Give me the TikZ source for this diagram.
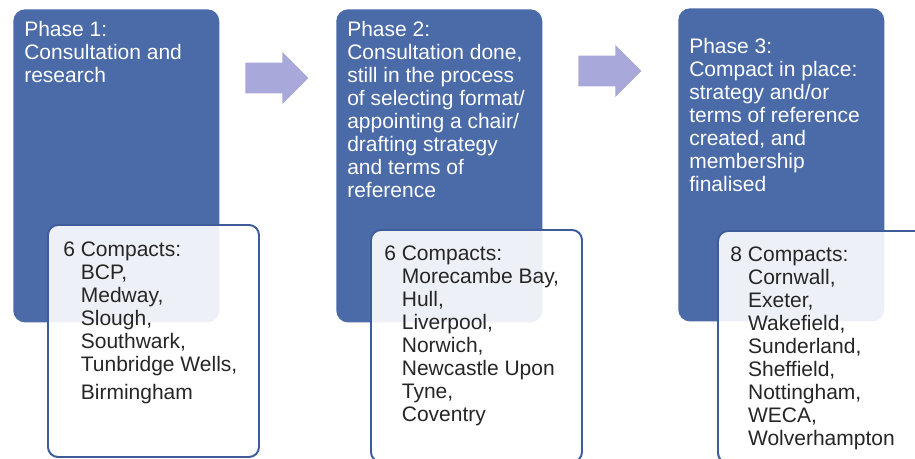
\documentclass[tikz,border=0pt]{standalone}
\usepackage{fontspec}
\setmainfont{Liberation Sans}
\usetikzlibrary{positioning, shapes.arrows}
\definecolor{phaseblue}{RGB}{74,106,168}
\definecolor{listedge}{RGB}{62,92,154}
\definecolor{listgrey}{RGB}{38,38,38}
\definecolor{arrowlilac}{RGB}{168,168,218}
\newcommand{\listindent}{\hspace*{0.44cm}}

\tikzset{
 phasebox/.style={fill=phaseblue, rounded corners=0.3cm, minimum width=5.15cm, minimum height=7.83cm, anchor=north west, inner sep=0pt},
 listbox/.style={draw=listedge, line width=1.4pt, fill=white, fill opacity=0.9, rounded corners=0.25cm, minimum width=5.275cm, minimum height=5.8cm, anchor=north west, inner sep=0pt},
 phasetext/.style={text=white, align=left, inner sep=0pt, font=\fontsize{14.94pt}{16.36pt}\selectfont},
 listtext/.style={text=listgrey, align=left, inner sep=0pt, font=\fontsize{14.94pt}{16.36pt}\selectfont},
 nextarrow/.style={single arrow, fill=arrowlilac, anchor=tail, inner xsep=0pt, inner ysep=0.38cm, minimum height=1.575cm, minimum width=1.29cm, single arrow head extend=0.26cm, single arrow tip angle=90}
}

\begin{document}
\begin{tikzpicture}[x=0.25mm, y=0.25mm]

\useasboundingbox (0,0) rectangle (915,-458);

% the three phases
\node[phasebox] (p1) at (13,-9) {};
\node[phasebox] (p2) at (336,-9) {};
\node[phasebox] (p3) at (678,-8) {};

\node[nextarrow] (a1) at (245,-78) {};
\node[nextarrow] (a2) at (578,-71) {};

% lists of compacts, over the phase boxes
\node[listbox] (l1) at (47,-224) {};
\node[listbox] (l2) at (370,-229) {};
\node[listbox] (l3) at (717,-230) {};

\node[phasetext, below right=0.29cm and 0.275cm of p1.north west] (t1) {Phase 1:\\Consultation and\\research};
\node[phasetext, below right=0.29cm and 0.275cm of p2.north west] (t2) {Phase 2:\\Consultation done,\\still in the process\\of selecting format/\\appointing a chair/\\drafting strategy\\and terms of\\reference};
\node[phasetext, below right=0.74cm and 0.275cm of p3.north west] (t3) {Phase 3:\\Compact in place:\\strategy and/or\\terms of reference\\created, and\\membership\\finalised};

\node[listtext, below right=0.44cm and 0.4cm of l1.north west] (c1) {6 Compacts:\\\listindent BCP,\\\listindent Medway,\\\listindent Slough,\\\listindent Southwark,\\\listindent Tunbridge Wells,\\[0.12cm]\listindent Birmingham};
\node[listtext, below right=0.42cm and 0.35cm of l2.north west] (c2) {6 Compacts:\\\listindent Morecambe Bay,\\\listindent Hull,\\\listindent Liverpool,\\\listindent Norwich,\\\listindent Newcastle Upon\\\listindent Tyne,\\\listindent Coventry};
\node[listtext, below right=0.42cm and 0.33cm of l3.north west] (c3) {8 Compacts:\\\listindent Cornwall,\\\listindent Exeter,\\\listindent Wakefield,\\\listindent Sunderland,\\\listindent Sheffield,\\\listindent Nottingham,\\\listindent WECA,\\\listindent Wolverhampton};

\end{tikzpicture}
\end{document}
